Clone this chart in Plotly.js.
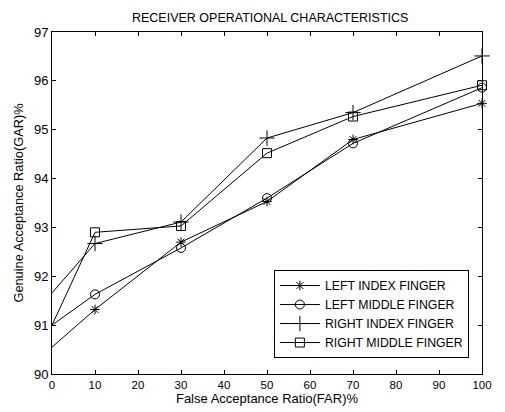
<!DOCTYPE html>
<html><head><meta charset="utf-8">
<script src="https://cdn.plot.ly/plotly-3.0.1.min.js"></script>
<style>html,body{margin:0;padding:0;background:#fff}#chart{width:505px;height:412px}</style>
</head><body><div id="chart"></div>
<script>
const far = [0, 10, 30, 50, 70, 100];
const leftIndex = [90.55, 91.32, 92.70, 93.53, 94.80, 95.54];
const leftMiddle = [91.00, 91.63, 92.58, 93.60, 94.72, 95.86];
const rightIndex = [91.66, 92.67, 93.11, 94.83, 95.35, 96.51];
const rightMiddle = [91.00, 92.90, 93.03, 94.52, 95.27, 95.91];
const names = ['LEFT INDEX FINGER', 'LEFT MIDDLE FINGER', 'RIGHT INDEX FINGER', 'RIGHT MIDDLE FINGER'];
const xTicks = [0,10,20,30,40,50,60,70,80,90,100];
const yTicks = [90,91,92,93,94,95,96,97];

const symbols = ['asterisk-open', 'circle-open', 'cross-thin-open', 'square-open'];
const sizes = [8, 9, 11, 9];
const series = [leftIndex, leftMiddle, rightIndex, rightMiddle];
const traces = [];
// first segment (x = 0 has no marker in the reference)
series.forEach((s, i) => {
  traces.push({
    x: far.slice(0, 2), y: s.slice(0, 2), type: 'scatter', mode: 'lines',
    line: {color: '#000', width: 1}, showlegend: false, hoverinfo: 'skip'
  });
});
series.forEach((s, i) => {
  traces.push({
    x: far.slice(1), y: s.slice(1), name: names[i], type: 'scatter', mode: 'lines+markers',
    line: {color: '#000', width: 1}, cliponaxis: false,
    marker: {symbol: symbols[i], size: sizes[i], color: '#000', line: {color: '#000', width: 1}}
  });
});

const fam = 'Liberation Sans, Arial, sans-serif';
const f = (size) => ({family: fam, size: size, color: '#000'});
const layout = {
  width: 505, height: 412,
  margin: {l: 52, r: 23, t: 32, b: 38},
  paper_bgcolor: '#fff', plot_bgcolor: '#fff',
  font: f(11),
  title: {text: 'RECEIVER OPERATIONAL CHARACTERISTICS', font: f(12.5), x: 0.535, xanchor: 'center', y: 0.958, yanchor: 'middle'},
  xaxis: {
    range: [0, 100], tickvals: xTicks, ticktext: xTicks.map(String),
    ticks: 'inside', ticklen: 4, tickcolor: '#000', mirror: 'ticks',
    showline: true, linecolor: '#000', linewidth: 1, showgrid: false, zeroline: false,
    tickfont: f(11.5),
    title: {text: 'False Acceptance Ratio(FAR)%', font: f(13), standoff: 4}
  },
  yaxis: {
    range: [90, 97], tickvals: yTicks, ticktext: yTicks.map(String),
    ticks: 'inside', ticklen: 4, tickcolor: '#000', mirror: 'ticks',
    showline: true, linecolor: '#000', linewidth: 1, showgrid: false, zeroline: false,
    tickfont: f(13),
    title: {text: 'Genuine Acceptance Ratio(GAR)%', font: f(12.8), standoff: 7}
  },
  legend: {
    x: 0.516, y: 0.304, xanchor: 'left', yanchor: 'top',
    bgcolor: '#fff', bordercolor: '#000', borderwidth: 1,
    font: f(12.3), tracegroupgap: 0, itemwidth: 40
  },
  showlegend: true
};
Plotly.newPlot('chart', traces, layout, {displayModeBar: false, staticPlot: true});
</script></body></html>
